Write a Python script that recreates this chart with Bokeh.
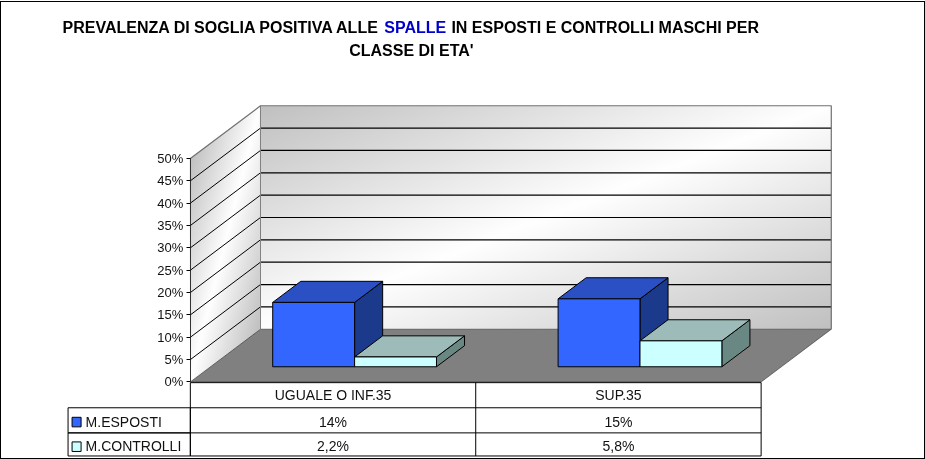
import numpy as np
from bokeh.core.properties import value
from bokeh.embed import file_html
from bokeh.models import BoxAnnotation, FixedTicker, Label, PrintfTickFormatter, Range1d
from bokeh.plotting import figure
from bokeh.resources import INLINE

# ---- data ----
categories = ["UGUALE O INF.35", "SUP.35"]
series_names = ["M.ESPOSTI", "M.CONTROLLI"]
esposti = [14.4, 15.2]
controlli = [2.2, 5.8]
esposti_labels = ["14%", "15%"]
controlli_labels = ["2,2%", "5,8%"]
y_ticks = [0, 5, 10, 15, 20, 25, 30, 35, 40, 45, 50]

# ---- geometry ----
W, H = 925, 459
FRAME_LEFT = 40
X0, CAT_W = 190.5, 284.75
Y0, PCT = 380.8, 4.45
DX, DY = 70.0, 52.5
DEPTH_X, DEPTH_Y = DX / CAT_W, DY / PCT
BAR_W, BAR_SHIFT = 81.7 / CAT_W, 1.35 / CAT_W
D0, D1 = 0.288, 0.688


def fx(px):
    return (px - X0) / CAT_W


def fy(py):
    return (Y0 - py) / PCT


def prj(x, y, d):
    return x + DEPTH_X * d, y + DEPTH_Y * d


# the CSS border around the canvas is the chart's outer frame
p = figure(width=W - 2, height=H - 3, output_backend="svg", toolbar_location=None,
           x_axis_location=None, min_border_left=FRAME_LEFT - 1, min_border_right=0,
           min_border_top=0, min_border_bottom=0,
           x_range=Range1d(fx(FRAME_LEFT + 1), fx(W)), y_range=Range1d(fy(H), fy(3)))
p.styles = {"position": "fixed", "left": "0px", "top": "1px", "border": "1px solid black",
            "box-sizing": "content-box"}
p.outline_line_color = None
p.grid.visible = False
p.background_fill_color = "white"

FONT = "Liberation Sans"
ax = p.yaxis[0]
ax.fixed_location = 0
ax.ticker = FixedTicker(ticks=y_ticks)
ax.formatter = PrintfTickFormatter(format="%d%%")
ax.bounds = (0, 50)
ax.major_label_text_font = FONT
ax.major_label_text_font_size = "13px"
ax.major_label_text_color = "#111111"
ax.major_label_standoff = 3
ax.major_tick_in = 0
ax.major_tick_out = 4
ax.minor_tick_line_color = None
ax.axis_line_color = "#333333"
ax.major_tick_line_color = "#000000"

# ---- wall shading ----
img_x0, img_y0 = 190, 382
img_w, img_h = 642, 278
px_x, px_y = np.meshgrid(np.arange(img_w) + img_x0 + 0.5, img_y0 - np.arange(img_h) - 0.5)
rgba = np.zeros((img_h, img_w), dtype=np.uint32)
view = rgba.view(dtype=np.uint8).reshape((img_h, img_w, 4))
u = (px_x - X0) / DX
v_side = (px_y - (Y0 - 50 * PCT) + DY * u) / (50 * PCT)
side = (u >= 0) & (u <= 1) & (v_side >= 0) & (v_side <= 1)
bx_px, by_px = X0 + DX, Y0 - DY
back = (px_x >= bx_px) & (px_x <= bx_px + 2 * CAT_W) & (px_y >= by_px - 50 * PCT) & (px_y <= by_px)
t = np.zeros_like(px_x)
t[side] = ((u + v_side) / 2)[side]
t[back] = (((px_x - bx_px) / (2 * CAT_W) + (px_y - by_px + 50 * PCT) / (50 * PCT)) / 2)[back]
g = (255 - 63 * np.abs(2 * t - 1)).astype(np.uint8)
view[..., 0] = g
view[..., 1] = g
view[..., 2] = g
view[..., 3] = np.where(side | back, 255, 0)
p.image_rgba(image=[rgba], x=fx(img_x0), y=fy(img_y0), dw=img_w / CAT_W, dh=img_h / PCT)

# ---- floor ----
fc = [prj(0, 0, 0), prj(2, 0, 0), prj(2, 0, 1), prj(0, 0, 1)]
p.patch([c[0] for c in fc], [c[1] for c in fc], fill_color="#808080", line_color="#303030", line_width=0.6)

# ---- gridlines on the walls ----
grid_vals = [v for v in y_ticks if 0 < v < 50]
bx, by = prj(0, 0, 1)
ex, _ = prj(2, 0, 1)
p.segment([bx] * len(grid_vals), [v + by for v in grid_vals], [ex] * len(grid_vals), [v + by for v in grid_vals],
          line_color="black", line_width=1.2)
p.segment([0] * len(grid_vals), grid_vals, [bx] * len(grid_vals), [v + by for v in grid_vals],
          line_color="black", line_width=1)
# wall outlines
top = y_ticks[-1]
p.line([0, bx, ex, ex], [top, top + by, top + by, by], line_color="#707070", line_width=1.2)
p.line([bx, bx], [by, top + by], line_color="#808080", line_width=1)


# ---- 3D bars ----
def bar(x0, x1, val, front, topc, sidec):
    a = [prj(x0, val, D0), prj(x1, val, D0), prj(x1, val, D1), prj(x0, val, D1)]
    s = [prj(x1, 0, D0), prj(x1, val, D0), prj(x1, val, D1), prj(x1, 0, D1)]
    p.patch([c[0] for c in s], [c[1] for c in s], fill_color=sidec, line_color="black", line_width=1)
    p.patch([c[0] for c in a], [c[1] for c in a], fill_color=topc, line_color="black", line_width=1)
    fb = prj(x0, 0, D0)
    ft = prj(x1, val, D0)
    p.quad(left=[fb[0]], right=[ft[0]], bottom=[fb[1]], top=[ft[1]], fill_color=front, line_color="black", line_width=1)


for i in range(len(categories)):
    c = i + 0.5 + BAR_SHIFT
    bar(c - BAR_W, c, esposti[i], "#3366FF", "#2A50C4", "#1C3A8C")
    bar(c, c + BAR_W, controlli[i], "#CCFFFF", "#9DBCB9", "#6A8883")

# ---- data table ----
rows_py = [381.5, 406.5, 431.5, 454.5]
cols = [0, 1, 2]
p.segment([0] * 4, [fy(r) for r in rows_py], [2] * 4, [fy(r) for r in rows_py], line_color="black", line_width=1)
p.segment(cols, [fy(rows_py[0])] * 3, cols, [fy(rows_py[-1])] * 3, line_color="black", line_width=1)

cell_x = [0.5, 1.5]
for labels, py in ((categories, 393.5), (esposti_labels, 420.5), (controlli_labels, 444.5)):
    p.text(cell_x, [fy(py)] * 2, text=labels, text_font=value(FONT), text_font_size="14px",
           text_align="center", text_baseline="middle", text_color="#111111")

# left part of the table and legend keys
p.add_layout(BoxAnnotation(left=fx(68.5), right=0, top=fy(406.5), bottom=fy(431.5),
                           fill_color=None, line_color="black", line_alpha=1, line_width=1))
p.add_layout(BoxAnnotation(left=fx(68.5), right=0, top=fy(431.5), bottom=fy(454.5),
                           fill_color=None, line_color="black", line_alpha=1, line_width=1))
for name, col, ky, ty in zip(series_names, ["#3366FF", "#CCFFFF"], [(416, 425.5), (440.5, 450)], [420.5, 444.5]):
    p.add_layout(BoxAnnotation(left=fx(72.5), right=fx(81.5), top=fy(ky[0]), bottom=fy(ky[1]),
                               fill_color=col, fill_alpha=1, line_color="black", line_alpha=1, line_width=1))
    p.add_layout(Label(x=fx(86), y=fy(ty), text=name, text_font=FONT, text_font_size="14px",
                       text_baseline="middle", text_color="#111111"))

# ---- title ----
for txt, x, y, col in (("PREVALENZA DI SOGLIA POSITIVA ALLE", 63, 28, "black"),
                       ("SPALLE", 384, 28, "#0000CC"),
                       ("IN ESPOSTI E CONTROLLI MASCHI PER", 451, 28, "black"),
                       ("CLASSE DI ETA'", 349, 51, "black")):
    p.add_layout(Label(x=fx(x), y=fy(y), text=txt, text_font=FONT, text_font_size="16px",
                       text_font_style="bold", text_baseline="middle", text_color=col))

open("out.html", "w").write(file_html(p, INLINE))
